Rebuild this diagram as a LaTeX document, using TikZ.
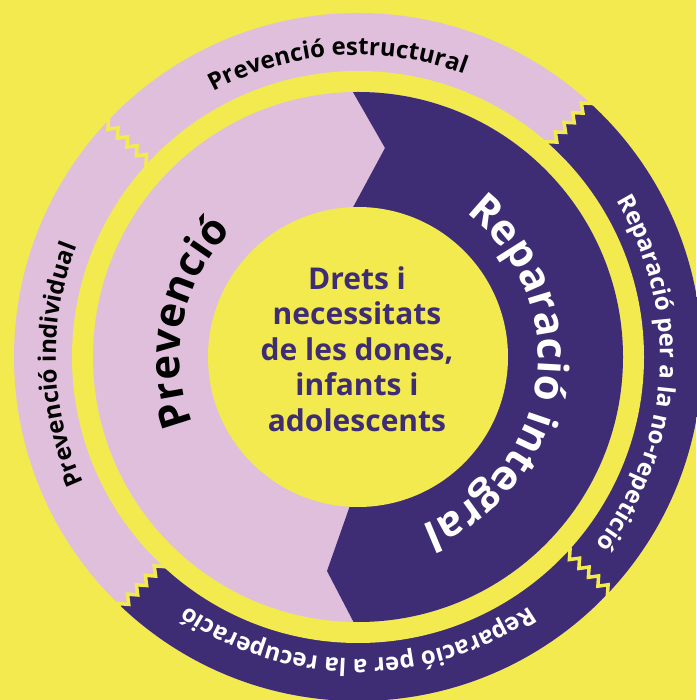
\documentclass[tikz,border=0pt]{standalone}
\usepackage{fontspec}
\setmainfont{Open Sans}
\usetikzlibrary{decorations.pathmorphing, decorations.text}
\definecolor{bgyellow}{RGB}{242,234,78}
\definecolor{lilac}{RGB}{224,191,220}
\definecolor{deeppurple}{RGB}{62,45,117}

\tikzset{
  zig/.style={decoration={zigzag, segment length=13pt, amplitude=4pt}},
  cutline/.style={draw=bgyellow, line width=3.5pt},
}

\begin{document}
\begin{tikzpicture}[x=1pt, y=1pt]
      \useasboundingbox (-358,-343) rectangle (338,357);
      \fill[bgyellow] (-358,-343) rectangle (338,357);
      % outer ring
      \fill[lilac] (0,0) circle[radius=344];
      \begin{scope}
        \clip (0,0) circle[radius=344];
        \fill[deeppurple] (48:270) decorate[zig] {-- (48:360)} -- (48:480) -- (0:480) -- (-45:480) -- (-90:480)
          -- (226.5:480) -- (226.5:360) decorate[zig] {-- (226.5:270)} -- (0,0) -- cycle;
      \end{scope}
      \foreach \a in {48, 137, 317} {
        \draw[cutline] (\a:270) decorate[zig] {-- (\a:360)};
      }
      \draw[cutline] (226.5:360) decorate[zig] {-- (226.5:270)};
      \fill[bgyellow] (0,0) circle[radius=286];
      % inner disc
      \fill[lilac] (0,0) circle[radius=265];
      \begin{scope}
        \clip (0,0) circle[radius=265];
        \fill[deeppurple] (-16,284) -- (27,209) -- (-28,107) -- (1,-123) -- (-31,-214) -- (7,-287)
          -- (300,-300) -- (300,300) -- cycle;
      \end{scope}
      \fill[bgyellow] (0,0) circle[radius=150];
      \node[font=\bfseries\fontsize{30}{35.5}\selectfont, text=deeppurple, align=center] (core) at (-1,8)
        {Drets i\\necessitats\\de les dones,\\infants i\\adolescents};
      % ring labels
      \path[decorate, decoration={text along path, text align=center,
        text={|\fontsize{24}{24}\selectfont\bfseries|Prevenció estructural}}]
        (160:302) arc[start angle=160, end angle=28, radius=302];
      \path[decorate, decoration={text along path, text align=center,
        text={|\fontsize{24}{24}\selectfont\bfseries|Prevenció individual}}]
        (247.5:302) arc[start angle=247.5, end angle=115.5, radius=302];
      \path[decorate, decoration={text along path, text align=center, text color=white,
        text={|\fontsize{24}{24}\selectfont\bfseries|Reparació per a la no-repetició}}]
        (66.5:302) arc[start angle=66.5, end angle=-73.5, radius=302];
      \path[decorate, decoration={text along path, text align=center, text color=white,
        text={|\fontsize{24}{24}\selectfont\bfseries|Reparació per a la recuperació}}]
        (340:302) arc[start angle=340, end angle=200, radius=302];
      % big labels
      \path[decorate, decoration={text along path, text align=center,
        text={|\fontsize{42}{42}\selectfont\bfseries|Prevenció}}]
        (258.5:178) arc[start angle=258.5, end angle=78.5, radius=178];
      \path[decorate, decoration={text along path, text align=center, text color=white,
        text={|\fontsize{42}{42}\selectfont\bfseries|Reparació integral}}]
        (82:180) arc[start angle=82, end angle=-98, radius=180];
    \end{tikzpicture}
\end{document}
